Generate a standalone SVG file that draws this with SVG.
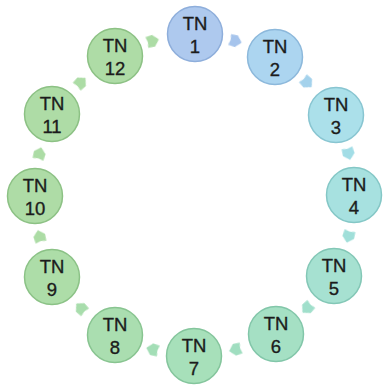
<svg xmlns="http://www.w3.org/2000/svg" width="384" height="388" viewBox="0 0 384 388">
<defs>
<filter id="soft" x="-50%" y="-50%" width="200%" height="200%"><feGaussianBlur stdDeviation="0.6"/></filter>
<polygon id="arr" points="-6,-5.5 1,-6 6.5,0 1,6 -6,5.5 -4.8,0"/>
</defs>
<style>
.n{stroke-width:1.5}
.t{font-family:"Liberation Sans",Arial,sans-serif;font-size:18.5px;fill:#1c1c1c;stroke:#1c1c1c;stroke-width:0.35;text-anchor:middle}
.a{filter:url(#soft)}
</style>
<rect width="384" height="388" fill="#fff"/>
<g id="connectors">
<use href="#arr" class="a" fill="#a6c4ec" transform="translate(235.4,41) rotate(15)"/>
<use href="#arr" class="a" fill="#a4d2ec" transform="translate(307.1,82.5) rotate(45)"/>
<use href="#arr" class="a" fill="#a2dde6" transform="translate(348.5,153.6) rotate(75)"/>
<use href="#arr" class="a" fill="#a0dfd9" transform="translate(348.5,236.4) rotate(105)"/>
<use href="#arr" class="a" fill="#a0dfcb" transform="translate(307.1,308.1) rotate(135)"/>
<use href="#arr" class="a" fill="#a0dec0" transform="translate(235.4,349.5) rotate(165)"/>
<use href="#arr" class="a" fill="#a3deb6" transform="translate(152.6,349.5) rotate(195)"/>
<use href="#arr" class="a" fill="#a8ddac" transform="translate(80.9,308.1) rotate(225)"/>
<use href="#arr" class="a" fill="#acdca5" transform="translate(39.5,236.4) rotate(255)"/>
<use href="#arr" class="a" fill="#acdca5" transform="translate(39.5,153.6) rotate(285)"/>
<use href="#arr" class="a" fill="#acdca5" transform="translate(80.9,82.5) rotate(315)"/>
<use href="#arr" class="a" fill="#acdca5" transform="translate(152.6,41) rotate(345)"/>
</g>
<g id="tn1"><circle class="n" cx="195" cy="34" r="27.5" fill="#aec9ee" stroke="#8eaedb"/><text class="t" x="195" y="30">TN</text><text class="t" x="195" y="53">1</text></g>
<g id="tn2"><circle class="n" cx="275" cy="57" r="27.5" fill="#acd5f0" stroke="#8cb8db"/><text class="t" x="275" y="53">TN</text><text class="t" x="275" y="76">2</text></g>
<g id="tn3"><circle class="n" cx="336" cy="115" r="27.5" fill="#abe0ea" stroke="#88c5d1"/><text class="t" x="336" y="111">TN</text><text class="t" x="336" y="134">3</text></g>
<g id="tn4"><circle class="n" cx="354" cy="195" r="27.5" fill="#a7e1e0" stroke="#84c7c6"/><text class="t" x="354" y="191">TN</text><text class="t" x="354" y="214">4</text></g>
<g id="tn5"><circle class="n" cx="334" cy="276" r="27.5" fill="#a6e1d1" stroke="#83c7b6"/><text class="t" x="334" y="272">TN</text><text class="t" x="334" y="295">5</text></g>
<g id="tn6"><circle class="n" cx="276" cy="334" r="27.5" fill="#a5e0c4" stroke="#82c6a9"/><text class="t" x="276" y="330">TN</text><text class="t" x="276" y="353">6</text></g>
<g id="tn7"><circle class="n" cx="194" cy="356" r="27.5" fill="#a7e0ba" stroke="#84c59c"/><text class="t" x="194" y="352">TN</text><text class="t" x="194" y="375">7</text></g>
<g id="tn8"><circle class="n" cx="115" cy="335" r="27.5" fill="#aadeb0" stroke="#88c490"/><text class="t" x="115" y="331">TN</text><text class="t" x="115" y="354">8</text></g>
<g id="tn9"><circle class="n" cx="52" cy="277" r="27.5" fill="#addda8" stroke="#8bc286"/><text class="t" x="52" y="273">TN</text><text class="t" x="52" y="296">9</text></g>
<g id="tn10"><circle class="n" cx="35" cy="196" r="27.5" fill="#aedca6" stroke="#8cc184"/><text class="t" x="35" y="192">TN</text><text class="t" x="35" y="215">10</text></g>
<g id="tn11"><circle class="n" cx="52" cy="114" r="27.5" fill="#aedca6" stroke="#8cc184"/><text class="t" x="52" y="110">TN</text><text class="t" x="52" y="133">11</text></g>
<g id="tn12"><circle class="n" cx="115" cy="56" r="27.5" fill="#aedca6" stroke="#8cc184"/><text class="t" x="115" y="52">TN</text><text class="t" x="115" y="75">12</text></g>
</svg>
